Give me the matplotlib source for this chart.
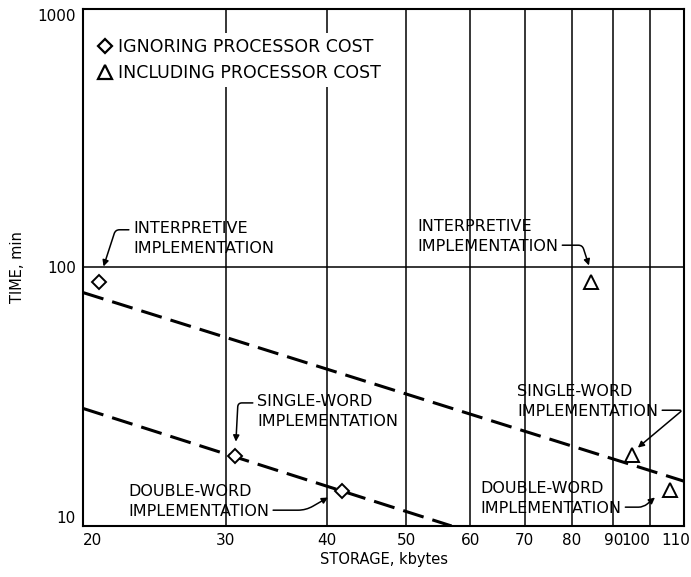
import numpy as np
import matplotlib.pyplot as plt
from matplotlib.lines import Line2D
from matplotlib.ticker import FixedLocator, NullLocator, FixedFormatter
from matplotlib.transforms import ScaledTranslation

# dashed trend lines (endpoints)
upper_line_x = [20, 110]
upper_line_y = [80, 14.9]
lower_line_x = [20, 56.9]
lower_line_y = [28.5, 10]

# ignoring processor cost (diamonds)
ign_x = [20.9, 30.8, 41.7]
ign_y = [88, 18.6, 13.6]

# including processor cost (triangles)
inc_x = [84.5, 94.9, 105.7]
inc_y = [88, 18.9, 13.8]

x_ticks = [20, 30, 40, 50, 60, 70, 80, 90, 100, 110]
y_ticks = [10, 100, 1000]

fig = plt.figure(figsize=(6.91, 5.77), dpi=100)
ax = fig.add_axes([0.1201, 0.0884, 0.8698, 0.896])
ax.set_xscale('log')
ax.set_yscale('log')
ax.set_xlim(20, 110)
ax.set_ylim(10, 1000)

ax.xaxis.set_major_locator(FixedLocator(x_ticks))
ax.xaxis.set_major_formatter(FixedFormatter([str(v) for v in x_ticks]))
ax.xaxis.set_minor_locator(NullLocator())
ax.yaxis.set_major_locator(FixedLocator(y_ticks))
ax.yaxis.set_major_formatter(FixedFormatter([str(v) for v in y_ticks]))
ax.yaxis.set_minor_locator(NullLocator())
ax.tick_params(length=0, labelsize=11, pad=5)
ax.grid(True, color='black', lw=1.1)

for s in ax.spines.values():
    s.set_linewidth(1.5)

# nudge edge tick labels like the original
xl = ax.get_xticklabels()
xl[0].set_ha('left')
xl[8].set_ha('right')
xl[9].set_transform(xl[9].get_transform() + ScaledTranslation(-8 / 100, 0, fig.dpi_scale_trans))
yl = ax.get_yticklabels()
yl[0].set_va('bottom')
yl[2].set_va('top')

ax.plot(upper_line_x, upper_line_y, color='black', lw=2.2, ls=(0, (7, 3)))
ax.plot(lower_line_x, lower_line_y, color='black', lw=2.2, ls=(0, (7, 3)))

ax.plot(ign_x, ign_y, ls='none', marker='D', ms=7.5, mfc='white', mec='black', mew=1.4, zorder=5)
ax.plot(inc_x, inc_y, ls='none', marker='^', ms=10, mfc='white', mec='black', mew=1.4, zorder=5)

ax.set_xlabel('STORAGE, kbytes', fontsize=10.5, labelpad=3)
ax.set_ylabel('TIME, min', fontsize=10.5)
ax.yaxis.set_label_coords(-58 / 601, 0.5)

handles = [
    Line2D([], [], ls='none', marker='D', ms=7.5, mfc='white', mec='black', mew=1.6),
    Line2D([], [], ls='none', marker='^', ms=10, mfc='white', mec='black', mew=1.6),
]
leg = ax.legend(handles, ['IGNORING PROCESSOR COST', 'INCLUDING PROCESSOR COST'],
                loc='upper left', bbox_to_anchor=(0.017, 0.954), borderaxespad=0,
                fontsize=12.5, handlelength=0.8, handletextpad=0.3, labelspacing=0.45,
                borderpad=0.3, frameon=True, fancybox=False)
leg.get_frame().set_facecolor('white')
leg.get_frame().set_edgecolor('none')
leg.get_frame().set_alpha(1)

arrow = dict(arrowstyle='-|>', color='black', lw=1.1, mutation_scale=9, shrinkA=1, shrinkB=0)
fs = 11.5
lsp = 1.4

ax.annotate('INTERPRETIVE\nIMPLEMENTATION', xy=(21.2, 100.9), xytext=(23.05, 129.5),
            ha='left', va='center', fontsize=fs, linespacing=lsp,
            arrowprops=dict(arrow, relpos=(0, 0.75),
                            connectionstyle='angle,angleA=0,angleB=72,rad=4'))
ax.annotate('INTERPRETIVE\nIMPLEMENTATION', xy=(84.0, 101.8), xytext=(51.6, 131.8),
            ha='left', va='center', fontsize=fs, linespacing=lsp,
            arrowprops=dict(arrow, relpos=(1, 0.25),
                            connectionstyle='angle,angleA=0,angleB=108,rad=4'))
ax.annotate('SINGLE-WORD\nIMPLEMENTATION', xy=(30.86, 21.2), xytext=(32.76, 27.7),
            ha='left', va='center', fontsize=fs, linespacing=lsp,
            arrowprops=dict(arrow, relpos=(0, 0.75),
                            connectionstyle='angle,angleA=0,angleB=87,rad=4'))
ax.annotate('DOUBLE-WORD\nIMPLEMENTATION', xy=(40.07, 12.89), xytext=(22.72, 12.44),
            ha='left', va='center', fontsize=fs, linespacing=lsp,
            arrowprops=dict(arrow, relpos=(1, 0.25),
                            connectionstyle='angle,angleA=0,angleB=30,rad=8'))
ax.annotate('SINGLE-WORD\nIMPLEMENTATION', xy=(96.5, 20.1), xytext=(68.5, 30.3),
            ha='left', va='center', fontsize=fs, linespacing=lsp,
            arrowprops=dict(arrow, relpos=(1, 0.25),
                            connectionstyle='angle,angleA=0,angleB=40,rad=3'))
ax.annotate('DOUBLE-WORD\nIMPLEMENTATION', xy=(101.3, 12.89), xytext=(61.7, 12.78),
            ha='left', va='center', fontsize=fs, linespacing=lsp,
            arrowprops=dict(arrow, relpos=(1, 0.25),
                            connectionstyle='angle,angleA=0,angleB=40,rad=5'))

fig.savefig('out.png', dpi=100)
